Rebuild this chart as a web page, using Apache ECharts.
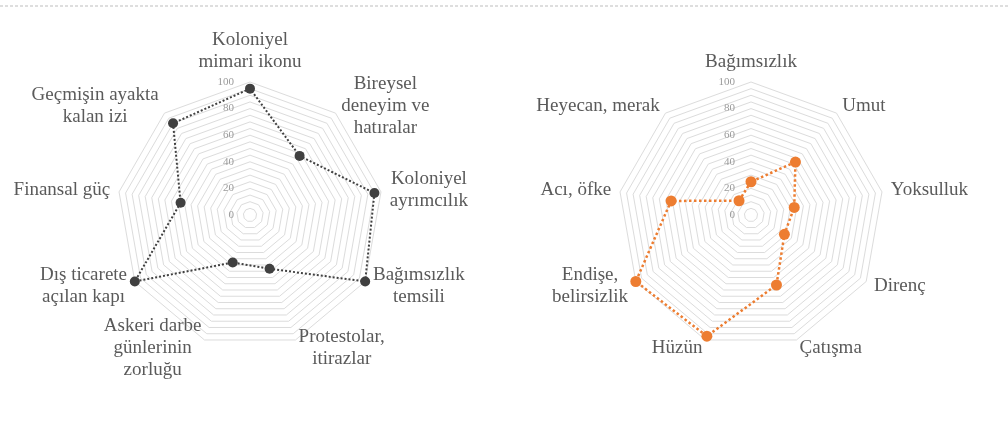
<!DOCTYPE html>
<html>
<head>
<meta charset="utf-8">
<script src="https://cdn.jsdelivr.net/npm/echarts@6/dist/echarts.min.js"></script>
<style>
  html, body { margin: 0; padding: 0; background: #fff; }
  #chart { width: 1008px; height: 432px; }
</style>
</head>
<body>
<div id="chart"></div>
<script>
// Axis names and scores, listed clockwise starting from the top axis
const leftNames = [
  'Koloniyel\nmimari ikonu',
  'Bireysel\ndeneyim ve\nhatıralar',
  'Koloniyel\nayrımcılık',
  'Bağımsızlık\ntemsili',
  'Protestolar,\nitirazlar',
  'Askeri darbe\ngünlerinin\nzorluğu',
  'Dış ticarete\naçılan kapı',
  'Finansal güç',
  'Geçmişin ayakta\nkalan izi'
];
const leftValues = [95, 58, 95, 100, 43, 38, 100, 53, 90];

const rightNames = [
  'Bağımsızlık',
  'Umut',
  'Yoksulluk',
  'Direnç',
  'Çatışma',
  'Hüzün',
  'Endişe,\nbelirsizlik',
  'Acı, öfke',
  'Heyecan, merak'
];
const rightValues = [25, 52, 33, 29, 56, 97, 100, 61, 14];

const scaleMax = 100;
const tickStep = 20;

const serif = '"Liberation Serif", "Times New Roman", serif';

// ECharts lays indicators out counter-clockwise; flip so they read clockwise
function clockwise(arr) {
  return [arr[0]].concat(arr.slice(1).reverse());
}

function indicators(names) {
  return clockwise(names).map(function (n, i) {
    const ind = { name: n, max: scaleMax, min: 0 };
    // tick labels only along the top axis
    if (i === 0) ind.axisLabel = { show: true };
    return ind;
  });
}

function radar(names, cx) {
  return {
    indicator: indicators(names),
    center: [cx, 215],
    radius: 133,
    startAngle: 90,
    shape: 'polygon',
    splitNumber: scaleMax / 5,
    axisName: {
      color: '#5a5a5a',
      fontFamily: serif,
      fontSize: 19,
      formatter: function (name) {
        return name.split('\n').map(function (l) { return '{c|' + l + '}'; }).join('\n');
      },
      rich: {
        c: { align: 'center', fontFamily: serif, fontSize: 19, lineHeight: 22, color: '#5a5a5a' }
      }
    },
    nameGap: 9,
    axisLine: { show: false },
    axisTick: { show: false },
    splitArea: { show: false },
    splitLine: { lineStyle: { color: '#dcdcdc', width: 1 } },
    axisLabel: {
      show: false,
      color: '#9a9a9a',
      fontFamily: serif,
      fontSize: 11,
      margin: 16,
      formatter: function (v) { return v % tickStep === 0 ? String(v) : ''; }
    }
  };
}

const chart = echarts.init(document.getElementById('chart'), null, { renderer: 'canvas' });

chart.setOption({
  animation: false,
  backgroundColor: '#ffffff',
  graphic: [{
    type: 'line',
    shape: { x1: 0, y1: 6, x2: 1008, y2: 6 },
    style: { stroke: '#d4d4d4', lineWidth: 1.5, lineDash: [3, 2] },
    silent: true
  }],
  radar: [radar(leftNames, 250), radar(rightNames, 751)],
  series: [
    {
      type: 'radar',
      radarIndex: 0,
      symbol: 'circle',
      symbolSize: 10,
      lineStyle: { type: 'dotted', width: 2, color: '#404040' },
      itemStyle: { color: '#404040' },
      data: [{ value: clockwise(leftValues) }]
    },
    {
      type: 'radar',
      radarIndex: 1,
      symbol: 'circle',
      symbolSize: 11,
      lineStyle: { type: 'dotted', width: 2.5, color: '#ED7D31' },
      itemStyle: { color: '#ED7D31' },
      data: [{ value: clockwise(rightValues) }]
    }
  ]
});
</script>
</body>
</html>
